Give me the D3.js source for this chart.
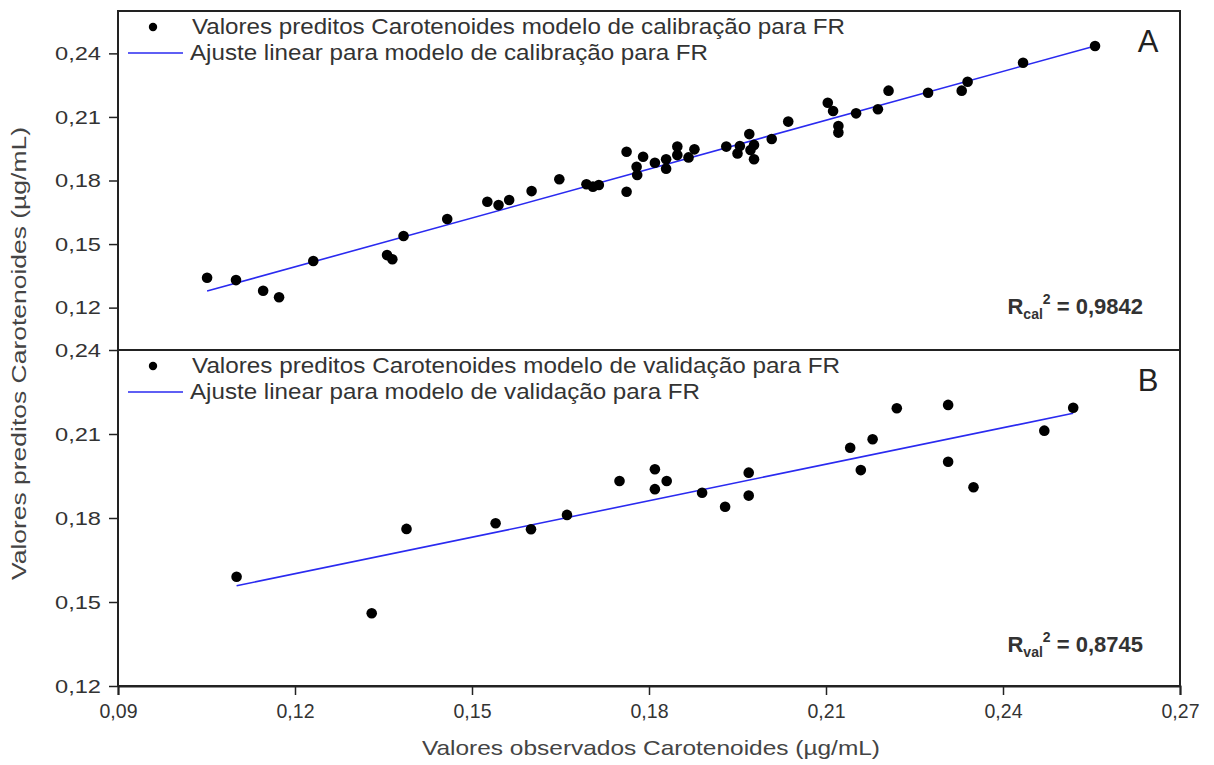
<!DOCTYPE html>
<html>
<head>
<meta charset="utf-8">
<script src="https://cdn.jsdelivr.net/npm/d3@7"></script>
<style>
  html, body { margin: 0; padding: 0; background: #fff; }
  svg { display: block; font-family: "Liberation Sans", Arial, sans-serif; }
</style>
</head>
<body>
<div id="chart"></div>
<script>
"use strict";

// Modelo de calibração (A): observado / predito
const calObs = [0.1051, 0.1100, 0.1146, 0.1173, 0.1231, 0.1356, 0.1365, 0.1384, 0.1458, 0.1526,
  0.1545, 0.1563, 0.1601, 0.1648, 0.1694, 0.1705, 0.1715, 0.1762, 0.1762, 0.1779,
  0.1780, 0.1790, 0.1810, 0.1829, 0.1829, 0.1848, 0.1848, 0.1867, 0.1877, 0.1931,
  0.1950, 0.1954, 0.1970, 0.1972, 0.1978, 0.1978, 0.2008, 0.2036, 0.2103, 0.2112,
  0.2121, 0.2121, 0.2151, 0.2188, 0.2206, 0.2273, 0.2330, 0.2340, 0.2434, 0.2556];
const calPred = [0.1341, 0.1330, 0.1280, 0.1249, 0.1420, 0.1448, 0.1428, 0.1538, 0.1618, 0.1700,
  0.1684, 0.1708, 0.1750, 0.1806, 0.1782, 0.1771, 0.1779, 0.1936, 0.1747, 0.1865,
  0.1826, 0.1912, 0.1884, 0.1900, 0.1856, 0.1960, 0.1920, 0.1909, 0.1947, 0.1960,
  0.1928, 0.1963, 0.2019, 0.1944, 0.1968, 0.1900, 0.1996, 0.2078, 0.2167, 0.2128,
  0.2057, 0.2026, 0.2117, 0.2136, 0.2224, 0.2214, 0.2224, 0.2266, 0.2356, 0.2435];

// Modelo de validação (B)
const valObs = [0.1101, 0.1330, 0.1389, 0.1540, 0.1600, 0.1661, 0.1750, 0.1810, 0.1810, 0.1830,
  0.1890, 0.1929, 0.1969, 0.1969, 0.2141, 0.2159, 0.2179, 0.2220, 0.2307, 0.2307,
  0.2350, 0.2470, 0.2519];
const valPred = [0.1590, 0.1460, 0.1761, 0.1781, 0.1760, 0.1811, 0.1932, 0.1974, 0.1903, 0.1932,
  0.1890, 0.1840, 0.1962, 0.1880, 0.2051, 0.1971, 0.2081, 0.2192, 0.2204, 0.2001,
  0.1910, 0.2112, 0.2194];

// Ajustes lineares (extremos)
const fitCalX = [0.1051, 0.2556];
const fitCalY = [0.1278, 0.2435];
const fitValX = [0.1101, 0.2519];
const fitValY = [0.1558, 0.2174];

const xTicks = [0.09, 0.12, 0.15, 0.18, 0.21, 0.24, 0.27];
const yTicks = [0.12, 0.15, 0.18, 0.21, 0.24];

const legendCal = ["Valores preditos Carotenoides modelo de calibração para FR",
  "Ajuste linear para modelo de calibração para FR"];
const legendVal = ["Valores preditos Carotenoides modelo de validação para FR",
  "Ajuste linear para modelo de validação para FR"];
const r2Labels = [["cal", "0,9842"], ["val", "0,8745"]];

document.addEventListener("DOMContentLoaded", () => {
  const width = 1214;
  const height = 765;

  const left = 118;
  const right = 1180;
  const top = 11;
  const mid = 350;
  const bottom = 686;

  const ink = "#222";
  const blue = "#2a2af0";

  const svg = d3
    .select("#chart")
    .append("svg")
    .attr("width", width)
    .attr("height", height);

  const fmt = (d) => d3.format(".2f")(d).replace(".", ",");

  const x = d3.scaleLinear().domain([0.09, 0.27]).range([left, right]);
  const yA = d3.scaleLinear().domain([0.10, 0.26]).range([mid, top]);
  const yB = d3.scaleLinear().domain([0.12, 0.24]).range([bottom, mid]);

  // axe x (bas)
  const xAxis = svg
    .append("g")
    .attr("transform", `translate(0, ${bottom})`)
    .call(d3.axisBottom(x).tickValues(xTicks).tickFormat(fmt).tickSize(9).tickPadding(8));
  xAxis.select(".domain").attr("stroke", ink).attr("stroke-width", 2);
  xAxis.selectAll(".tick line").attr("stroke", ink).attr("stroke-width", 1.5);
  xAxis.selectAll(".tick text").attr("fill", "#333").style("font-size", "21px")
    .attr("textLength", 38)
    .attr("lengthAdjust", "spacingAndGlyphs");

  // axes y pour chaque panneau
  [yA, yB].forEach((y) => {
    const g = svg
      .append("g")
      .attr("transform", `translate(${left}, 0)`)
      .call(d3.axisLeft(y).tickValues(yTicks).tickFormat(fmt).tickSize(9).tickPadding(8));
    g.select(".domain").remove();
    g.selectAll(".tick line").attr("stroke", ink).attr("stroke-width", 1.5);
    g.selectAll(".tick text")
      .attr("fill", "#333")
      .style("font-size", "19px")
      .attr("textLength", 46)
      .attr("lengthAdjust", "spacingAndGlyphs");
  });

  // cadres
  svg
    .append("rect")
    .attr("x", left)
    .attr("y", top)
    .attr("width", right - left)
    .attr("height", bottom - top)
    .attr("fill", "none")
    .attr("stroke", ink)
    .attr("stroke-width", 2);
  svg
    .append("line")
    .attr("x1", left)
    .attr("x2", right)
    .attr("y1", mid)
    .attr("y2", mid)
    .attr("stroke", ink)
    .attr("stroke-width", 2);

  const panels = [
    { y: yA, obs: calObs, pred: calPred, fx: fitCalX, fy: fitCalY, legend: legendCal, lens: [653, 518], tag: "A", r2: r2Labels[0], y0: top, r2y: 314 },
    { y: yB, obs: valObs, pred: valPred, fx: fitValX, fy: fitValY, legend: legendVal, lens: [648, 510], tag: "B", r2: r2Labels[1], y0: mid, r2y: 652 },
  ];

  panels.forEach((p) => {
    const g = svg.append("g");

    // ligne d'ajuste
    g.append("path")
      .datum(d3.zip(p.fx, p.fy))
      .attr("d", d3.line().x((d) => x(d[0])).y((d) => p.y(d[1])))
      .attr("fill", "none")
      .attr("stroke", blue)
      .attr("stroke-width", 1.6);

    // points
    g.append("g")
      .selectAll("circle")
      .data(d3.zip(p.obs, p.pred))
      .join("circle")
      .attr("cx", (d) => x(d[0]))
      .attr("cy", (d) => p.y(d[1]))
      .attr("r", 5.3)
      .attr("fill", "#000");

    // légende
    const ly1 = p.y0 + 16;
    const ly2 = p.y0 + 42;
    g.append("circle").attr("cx", 153).attr("cy", ly1).attr("r", 4.2).attr("fill", "#000");
    g.append("line")
      .attr("x1", 128)
      .attr("x2", 183)
      .attr("y1", ly2)
      .attr("y2", ly2)
      .attr("stroke", blue)
      .attr("stroke-width", 1.6);
    g.selectAll("text.leg")
      .data(p.legend)
      .join("text")
      .attr("class", "leg")
      .attr("x", (d, i) => (i === 0 ? 192 : 190))
      .attr("y", (d, i) => (i === 0 ? ly1 : ly2) + 7)
      .style("font-size", "22px")
      .attr("fill", "#333")
      .attr("textLength", (d, i) => p.lens[i])
      .attr("lengthAdjust", "spacingAndGlyphs")
      .text((d) => d);

    // lettre du panneau
    g.append("text")
      .attr("x", 1148)
      .attr("y", p.y0 + 41)
      .attr("text-anchor", "middle")
      .style("font-size", "31px")
      .attr("fill", "#222")
      .text(p.tag);

    // R²
    const t = g
      .append("text")
      .attr("x", 1143)
      .attr("y", p.r2y)
      .attr("text-anchor", "end")
      .style("font-size", "22px")
      .style("font-weight", "bold")
      .attr("fill", "#333");
    t.append("tspan").text("R");
    t.append("tspan").attr("dy", 5).style("font-size", "14px").text(p.r2[0]);
    t.append("tspan").attr("dy", -15).style("font-size", "14px").text("2");
    t.append("tspan").attr("dy", 10).text(" = " + p.r2[1]);
  });

  // titres des axes
  svg
    .append("text")
    .attr("x", (left + right) / 2 + 2)
    .attr("y", 755)
    .attr("text-anchor", "middle")
    .style("font-size", "21px")
    .attr("fill", "#444")
    .attr("textLength", 458)
    .attr("lengthAdjust", "spacingAndGlyphs")
    .text("Valores observados Carotenoides (µg/mL)");

  svg
    .append("text")
    .attr("transform", `translate(26, ${(top + bottom) / 2 + 5}) rotate(-90)`)
    .attr("text-anchor", "middle")
    .style("font-size", "20px")
    .attr("fill", "#444")
    .attr("textLength", 453)
    .attr("lengthAdjust", "spacingAndGlyphs")
    .text("Valores preditos Carotenoides (µg/mL)");
});
</script>
</body>
</html>
